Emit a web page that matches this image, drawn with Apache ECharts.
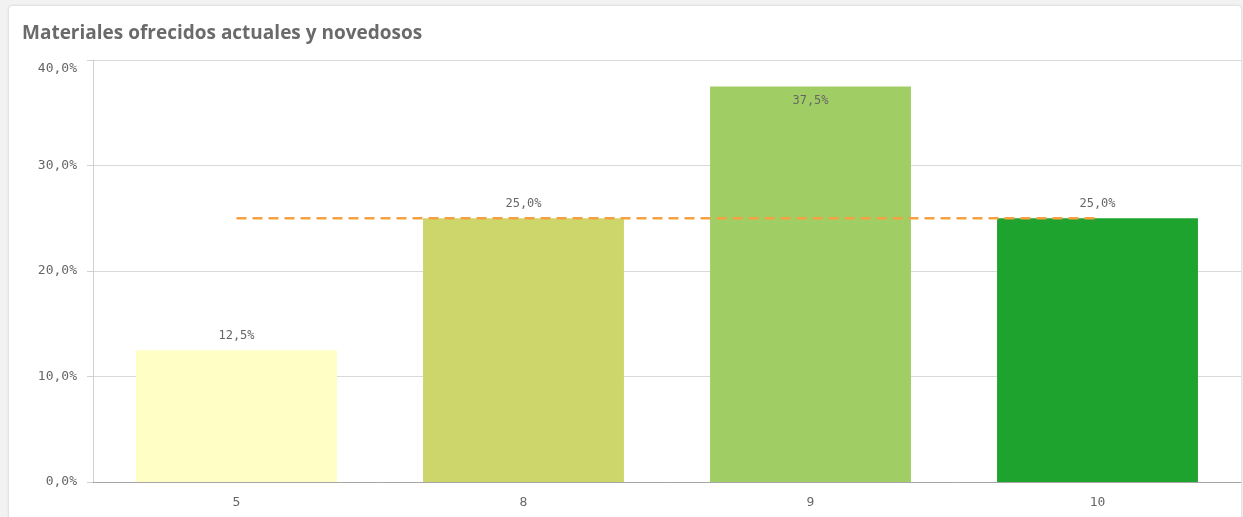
<!DOCTYPE html>
<html>
<head>
<meta charset="utf-8">
<script src="https://cdn.jsdelivr.net/npm/echarts@6/dist/echarts.min.js"></script>
<style>
html,body{margin:0;padding:0;background:#f2f2f2;width:1243px;height:517px;overflow:hidden;}
#card{position:absolute;left:8px;top:5px;width:1232px;height:530px;background:#fff;border:1px solid #e3e3e3;border-radius:4px;box-shadow:0 0 2px rgba(0,0,0,0.08);}
#chart{position:absolute;left:0;top:0;width:1243px;height:517px;}
</style>
</head>
<body>
<div id="card"></div>
<div id="chart"></div>
<script>
const title = 'Materiales ofrecidos actuales y novedosos';
const categories = ['5', '8', '9', '10'];
const percentages = [12.5, 25.0, 37.5, 25.0];
const referenceLine = [25.0, 25.0, 25.0, 25.0];
const barColors = ['#fefec5', '#cdd66a', '#a0ce64', '#1fa32f'];
const yMax = 40;

const fmt = v => v.toFixed(1).replace('.', ',') + '%';
const labelFont = {fontFamily: 'DejaVu Sans Mono', fontSize: 13, color: '#666'};
const chart = echarts.init(document.getElementById('chart'));
chart.setOption({
  animation: false,
  title: {
    text: title, left: 17, top: 19,
    textStyle: {fontFamily: 'Open Sans', fontWeight: 'bold', fontSize: 19, color: '#6a6a6a'}
  },
  grid: {left: 93, right: 2, top: 60, bottom: 35},
  xAxis: {
    type: 'category', data: categories,
    axisLine: {lineStyle: {color: '#a6a6a6'}},
    axisTick: {show: false},
    axisLabel: Object.assign({margin: 14}, labelFont)
  },
  yAxis: {
    type: 'value', min: 0, max: yMax, interval: 10,
    axisLine: {show: true, lineStyle: {color: '#d0d0d0'}},
    axisTick: {show: true, length: 6, lineStyle: {color: '#d0d0d0'}},
    splitLine: {lineStyle: {color: '#d9d9d9'}},
    axisLabel: Object.assign({
      margin: 16,
      formatter: v => v === yMax ? '{top|' + fmt(v) + '}' : fmt(v),
      rich: {top: Object.assign({padding: [18, 0, 0, 0]}, labelFont)}
    }, labelFont)
  },
  series: [
    {
      type: 'bar', barCategoryGap: '30%',
      data: percentages.map((v, i) => ({
        value: v,
        itemStyle: {color: barColors[i]},
        label: {position: v > 35 ? 'insideTop' : 'top', distance: 8}
      })),
      label: {show: true, fontFamily: 'DejaVu Sans Mono', fontSize: 12, color: '#666', formatter: p => fmt(p.value)}
    },
    {
      type: 'line', data: referenceLine, symbol: 'none', z: 5,
      lineStyle: {color: '#f7a041', width: 2.5, type: [10, 6]}
    }
  ]
});
</script>
</body>
</html>
